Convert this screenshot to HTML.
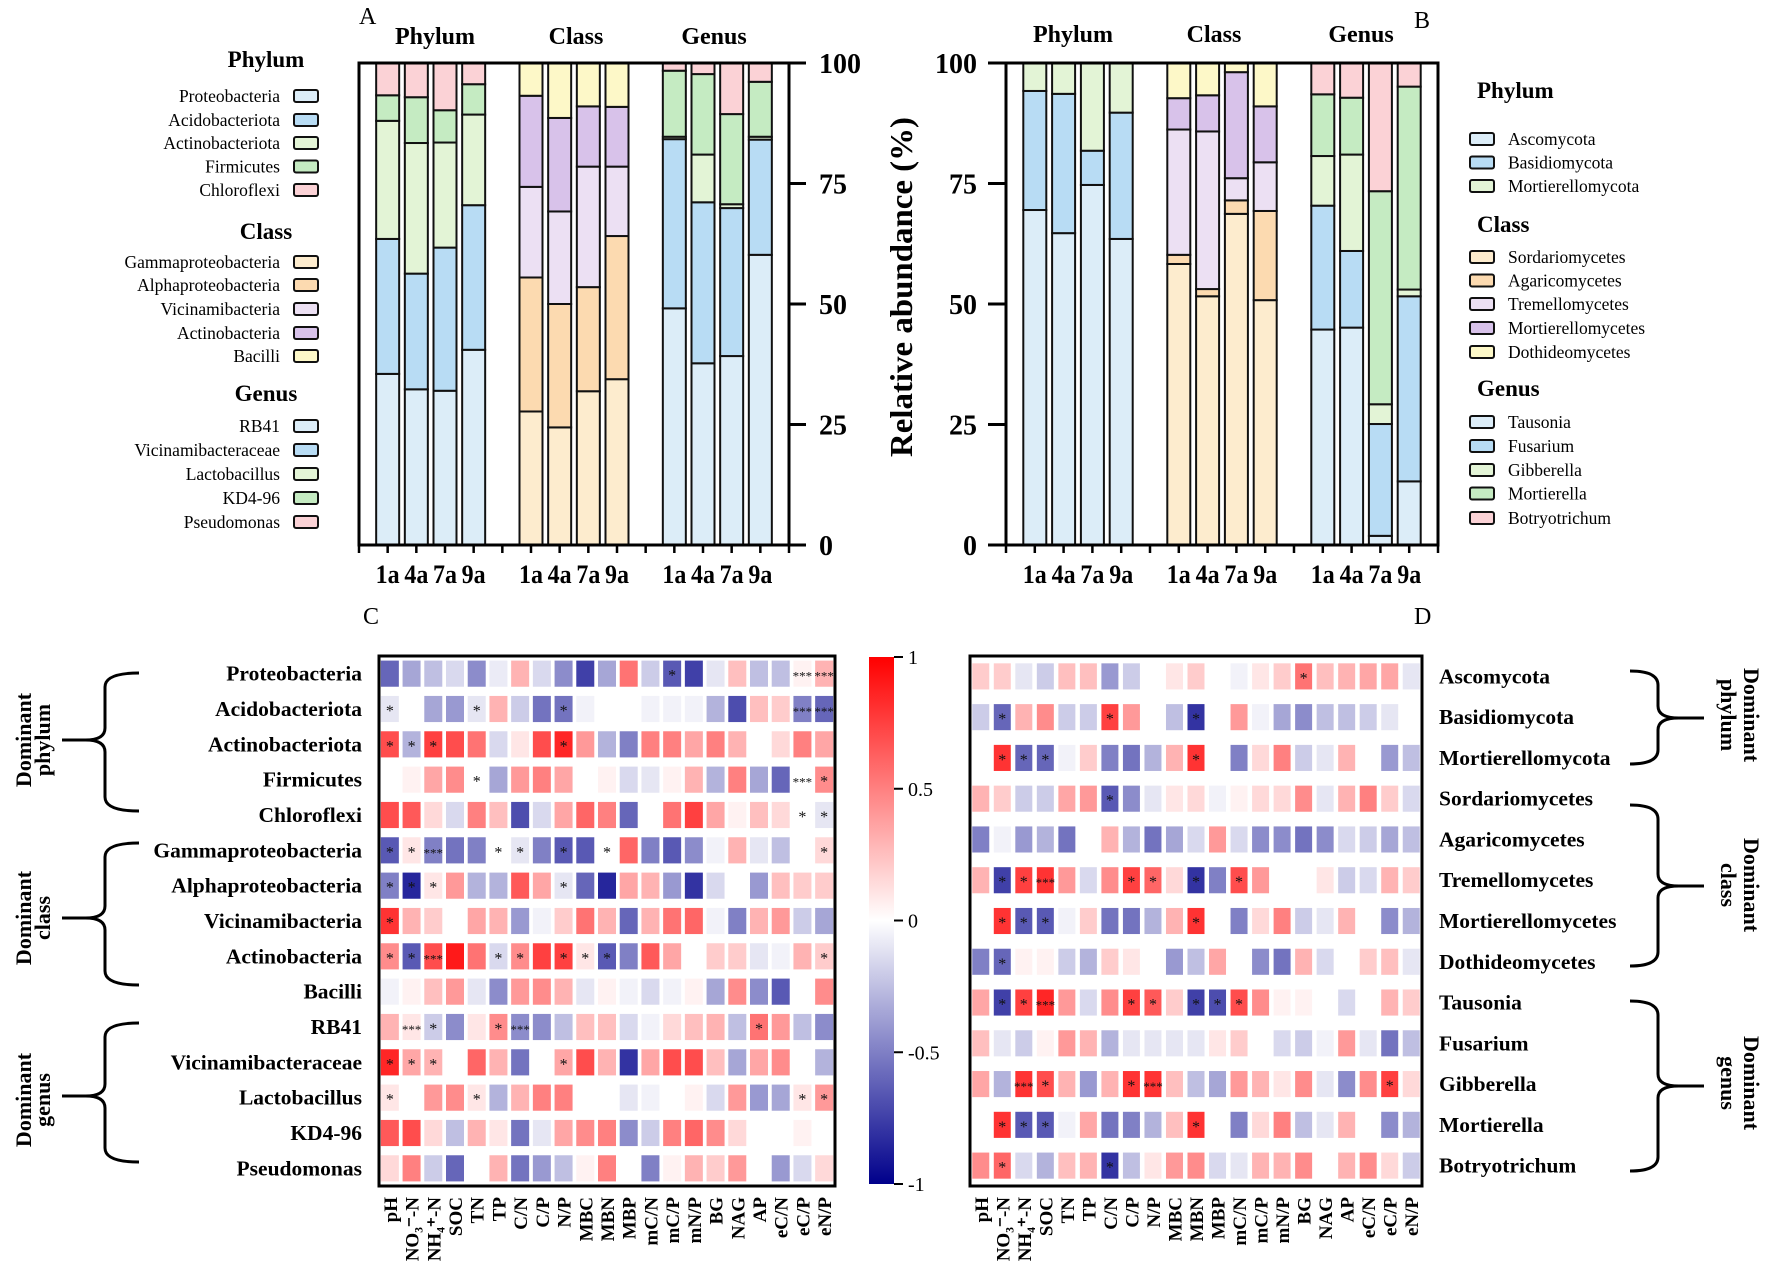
<!DOCTYPE html>
<html><head><meta charset="utf-8"><style>
html,body{margin:0;padding:0;background:#fff;}
svg{display:block;font-family:"Liberation Serif","Times New Roman",serif;}
</style></head><body>
<svg id="fig" xmlns="http://www.w3.org/2000/svg" width="1772" height="1266" viewBox="0 0 1772 1266"></svg>
<script>
// ---------- DATA ----------
const samples = ['1a','4a','7a','9a'];
const groupTitles = ['Phylum','Class','Genus'];
const aPhylumNames = ['Proteobacteria','Acidobacteriota','Actinobacteriota','Firmicutes','Chloroflexi'];
const aClassNames = ['Gammaproteobacteria','Alphaproteobacteria','Vicinamibacteria','Actinobacteria','Bacilli'];
const aGenusNames = ['RB41','Vicinamibacteraceae','Lactobacillus','KD4-96','Pseudomonas'];
const aPhylum = [[35.5,28,24.5,5.3,6.7],[32.3,24,27.1,9.5,7.1],[32,29.7,21.8,6.7,9.8],[40.5,30,18.8,6.3,4.4]];
const aClass = [[27.7,27.8,18.8,18.9,6.8],[24.4,25.6,19.2,19.4,11.4],[31.9,21.6,25,12.5,9],[34.4,29.7,14.4,12.4,9.1]];
const aGenus = [[49.1,35.1,0.5,13.7,1.6],[37.7,33.4,9.9,16.7,2.3],[39.2,30.7,0.8,18.7,10.6],[60.2,23.9,0.6,11.4,3.9]];
const bPhylumNames = ['Ascomycota','Basidiomycota','Mortierellomycota'];
const bClassNames = ['Sordariomycetes','Agaricomycetes','Tremellomycetes','Mortierellomycetes','Dothideomycetes'];
const bGenusNames = ['Tausonia','Fusarium','Gibberella','Mortierella','Botryotrichum'];
const bPhylum = [[69.5,24.7,5.8],[64.7,28.9,6.4],[74.7,7.1,18.2],[63.5,26.2,10.3]];
const bClass = [[58.3,1.9,26,6.5,7.3],[51.6,1.5,32.7,7.5,6.7],[68.7,2.8,4.6,22,1.9],[50.8,18.5,10.1,11.6,9]];
const bGenus = [[44.7,25.7,10.3,12.8,6.5],[45.1,15.9,20,11.8,7.2],[1.9,23.2,4.1,44.2,26.6],[13.2,38.4,1.4,42.1,4.9]];
const yTicks = [0,25,50,75,100];
const envVars = ['pH','NO₃⁻-N','NH₄⁺-N','SOC','TN','TP','C/N','C/P','N/P','MBC','MBN','MBP','mC/N','mC/P','mN/P','BG','NAG','AP','eC/N','eC/P','eN/P'];
const cRows = ['Proteobacteria','Acidobacteriota','Actinobacteriota','Firmicutes','Chloroflexi','Gammaproteobacteria','Alphaproteobacteria','Vicinamibacteria','Actinobacteria','Bacilli','RB41','Vicinamibacteraceae','Lactobacillus','KD4-96','Pseudomonas'];
const cVals = [
[-0.6,-0.35,-0.25,-0.15,-0.45,-0.08,0.3,-0.15,-0.45,-0.75,-0.35,0.55,-0.2,-0.65,-0.75,-0.1,0.25,-0.25,-0.25,0.05,0.3],
[-0.1,0,-0.35,-0.4,-0.1,0.3,-0.2,-0.55,-0.55,-0.05,0,0,-0.05,-0.05,-0.05,-0.3,-0.7,0.25,0.2,-0.5,-0.6],
[0.7,-0.3,0.75,0.7,0.55,-0.15,0.1,0.7,0.85,0.4,-0.3,-0.5,0.5,0.5,0.35,0.5,0.3,0,0.15,0.5,0.35],
[0,0.05,0.35,0.45,0,-0.35,0.4,0.5,0.35,0,0.05,-0.15,-0.1,0.05,0.3,-0.3,0.5,-0.35,-0.6,0,0.45],
[0.7,0.65,0.15,-0.15,0.5,0.25,-0.7,-0.15,0.35,0.6,0.5,-0.6,0,0.55,0.75,0.35,0.05,0.25,0.15,0,-0.1],
[-0.65,0.1,-0.5,-0.55,-0.5,0,-0.1,-0.5,-0.65,-0.65,0,0.6,-0.5,-0.65,-0.45,-0.05,0.3,-0.1,-0.25,0,0.15],
[-0.5,-0.85,0.1,0.4,-0.3,-0.3,0.65,0.35,-0.1,-0.6,-0.85,0.35,0.3,-0.4,-0.8,-0.15,0,-0.4,0.25,0.2,0.2],
[0.8,0.3,0.2,0,0.35,0.3,-0.4,-0.05,0.2,0.55,0.3,-0.6,0.3,0.55,0.6,-0.05,-0.5,0.3,0.4,-0.2,-0.35],
[0.45,-0.65,0.7,0.9,0.55,-0.15,0.45,0.75,0.75,0.1,-0.65,-0.5,0.65,0.35,0,0.2,0.2,-0.1,-0.05,0.3,0.2],
[-0.05,0.05,0.25,0.4,-0.1,-0.45,0.4,0.45,0.3,-0.1,0.05,-0.05,-0.15,-0.05,0.05,-0.35,0.45,-0.45,-0.65,0,0.45],
[0.3,0.1,-0.2,-0.45,0.1,0.45,-0.45,-0.45,-0.25,0.25,0.25,-0.15,-0.05,0.15,0.25,0.3,-0.25,0.55,0.4,-0.25,-0.45],
[0.85,0.35,0.3,0,0.6,0.3,-0.55,0,0.35,0.7,0.3,-0.8,0.35,0.7,0.7,0.25,-0.35,0.35,0.45,0,-0.3],
[0.1,0,0.4,0.45,0.1,-0.3,0.3,0.5,0.5,0,0,-0.1,-0.05,0,0.05,-0.15,0.4,-0.4,-0.35,0.1,0.4],
[0.65,0.7,0.15,-0.25,0.3,0.1,-0.55,-0.1,0.35,0.45,0.5,-0.45,-0.2,0.5,0.6,0.45,0.15,0,0,0.05,0],
[0.15,0.5,-0.2,-0.6,0,0.3,-0.55,-0.4,-0.25,0.05,0.5,0,-0.5,0.05,0.3,0.2,0.4,0,-0.4,-0.15,0.15]];
const cStars = [
[[13,'*'],[19,'***'],[20,'***']],
[[0,'*'],[4,'*'],[8,'*'],[19,'***'],[20,'***']],
[[0,'*'],[1,'*'],[2,'*'],[8,'*']],
[[4,'*'],[19,'***'],[20,'*']],
[[19,'*'],[20,'*']],
[[0,'*'],[1,'*'],[2,'***'],[5,'*'],[6,'*'],[8,'*'],[10,'*'],[20,'*']],
[[0,'*'],[1,'*'],[2,'*'],[8,'*']],
[[0,'*']],
[[0,'*'],[1,'*'],[2,'***'],[5,'*'],[6,'*'],[8,'*'],[9,'*'],[10,'*'],[20,'*']],
[],
[[1,'***'],[2,'*'],[5,'*'],[6,'***'],[17,'*']],
[[0,'*'],[1,'*'],[2,'*'],[8,'*']],
[[0,'*'],[4,'*'],[19,'*'],[20,'*']],
[],[]];
const dRows = ['Ascomycota','Basidiomycota','Mortierellomycota','Sordariomycetes','Agaricomycetes','Tremellomycetes','Mortierellomycetes','Dothideomycetes','Tausonia','Fusarium','Gibberella','Mortierella','Botryotrichum'];
const dVals = [
[0.2,0.2,-0.1,-0.2,0.25,0.25,-0.4,-0.2,0,0.1,0.2,0,-0.05,0.1,0.2,0.55,0.25,0.3,0.35,0.35,-0.1],
[-0.2,-0.6,0.3,0.45,-0.2,-0.2,0.75,0.4,0,-0.25,-0.8,0,0.4,-0.05,-0.35,-0.45,-0.25,-0.25,-0.2,-0.1,0],
[0,0.8,-0.6,-0.6,-0.05,0.2,-0.5,-0.55,-0.3,0.3,0.8,0,-0.5,0.15,0.5,-0.2,-0.1,0.3,0,-0.4,-0.25],
[0.3,0.2,-0.2,-0.2,0.35,0.4,-0.65,-0.45,-0.1,0.1,0.15,-0.05,0.05,0.15,0.15,0.45,-0.1,0.3,0.5,0.2,-0.15],
[-0.5,-0.05,-0.4,-0.3,-0.55,0,0.3,-0.3,-0.55,-0.35,-0.15,0.4,-0.15,-0.45,-0.45,-0.55,-0.45,-0.15,-0.2,-0.35,-0.25],
[0.3,-0.75,0.75,0.8,0.4,-0.15,0.45,0.75,0.6,0.15,-0.8,-0.5,0.7,0.4,0,0,0.1,-0.2,-0.15,0.3,0.2],
[0,0.8,-0.65,-0.65,-0.05,0.2,-0.55,-0.55,-0.3,0.3,0.8,0,-0.5,0.15,0.5,-0.2,-0.1,0.3,0,-0.45,-0.3],
[-0.5,-0.6,0.05,0.05,-0.2,-0.3,0.2,0.1,0,-0.4,-0.25,0.35,0,-0.45,-0.55,0.3,-0.15,0,0.2,0.25,-0.1],
[0.35,-0.75,0.75,0.85,0.4,-0.15,0.45,0.75,0.65,0.2,-0.75,-0.7,0.7,0.45,0.05,0.05,0,-0.15,0,0.3,0.2],
[0.25,-0.1,-0.2,0.05,0.4,0.3,-0.3,-0.1,-0.1,-0.1,-0.1,0.1,0.2,0,-0.15,-0.2,-0.05,0.4,-0.1,-0.55,-0.25],
[0.35,-0.3,0.8,0.7,0.3,-0.4,0.3,0.8,0.8,0.25,-0.25,-0.35,0.4,0.3,0.1,0.45,-0.1,-0.45,0.45,0.75,0.15],
[0,0.8,-0.65,-0.65,-0.05,0.35,-0.55,-0.5,-0.3,0.25,0.8,0,-0.5,0.15,0.5,-0.25,-0.1,0.3,0,-0.45,-0.3],
[0.45,0.6,-0.15,-0.3,0.25,0.3,-0.8,-0.25,0.1,0.4,0.45,-0.15,-0.1,0.3,0.3,0.45,0,0.3,0.45,0.15,-0.2]];
const dStars = [
[[15,'*']],
[[1,'*'],[6,'*'],[10,'*']],
[[1,'*'],[2,'*'],[3,'*'],[10,'*']],
[[6,'*']],
[],
[[1,'*'],[2,'*'],[3,'***'],[7,'*'],[8,'*'],[10,'*'],[12,'*']],
[[1,'*'],[2,'*'],[3,'*'],[10,'*']],
[[1,'*']],
[[1,'*'],[2,'*'],[3,'***'],[7,'*'],[8,'*'],[10,'*'],[11,'*'],[12,'*']],
[],
[[2,'***'],[3,'*'],[7,'*'],[8,'***'],[19,'*']],
[[1,'*'],[2,'*'],[3,'*'],[10,'*']],
[[1,'*'],[6,'*']]];
const cbTicks = [1,0.5,0,-0.5,-1];
const cbLabels = ['1','0.5','0','-0.5','-1'];

// ---------- HELPERS ----------
const NS='http://www.w3.org/2000/svg';
const svg=document.getElementById('fig');
function mk(tag,attrs,parent){const e=document.createElementNS(NS,tag);for(const k in attrs)e.setAttribute(k,attrs[k]);(parent||svg).appendChild(e);return e;}
function txt(s,attrs,parent){const e=mk('text',attrs,parent);e.textContent=s;return e;}
const colA1=['#dcedf8','#b8dcf4','#e3f4d6','#c5ebc2','#fbd2d6'];
const colA2=['#fdecce','#fcdab0','#ece0f3','#d8c2ea','#fdf8c8'];
const colB1=['#dcedf8','#b8dcf4','#e3f4d6'];

// ---------- STACKED BAR PANELS ----------
function yScale(v){return 545 - v*4.82;}
function drawPanel(id,left,right,axisSide,data,colors){
  const g=mk('g',{});
  
  
  const slot=(right-left)/15;
  data.forEach((grp,gi)=>{
    grp.forEach((vals,si)=>{
      const cx=left+slot*(gi*5+si+1);
      let cum=0;
      vals.forEach((v,k)=>{
        const r=mk('rect',{x:cx-11.5,y:yScale(cum+v),width:23,height:yScale(cum)-yScale(cum+v),fill:colors[gi][k],stroke:'#111','stroke-width':2},g);
        
        
        cum+=v;
      });
      const lab=txt(samples[si],{x:cx,y:583,'text-anchor':'middle','font-size':26,'font-weight':'bold',textLength:24,lengthAdjust:'spacingAndGlyphs'},g);
      
      
    });
  });
  const fr=mk('rect',{x:left,y:63,width:right-left,height:482,fill:'none',stroke:'#000','stroke-width':3},g);
  
  
  for(let k=0;k<=15;k++){mk('line',{x1:left+slot*k,x2:left+slot*k,y1:545,y2:553,stroke:'#000','stroke-width':2.5},g);}
  const ax=axisSide==='right'?right:left;
  yTicks.forEach(t=>{
    const y=yScale(t);
    if(axisSide==='right'){
      mk('line',{x1:ax,x2:ax+17,y1:y,y2:y,stroke:'#000','stroke-width':3},g);
      const tl=txt(String(t),{x:ax+30,y:y+10,'font-size':28,'font-weight':'bold'},g);
      
      
    } else {
      mk('line',{x1:ax-18,x2:ax,y1:y,y2:y,stroke:'#000','stroke-width':3},g);
      const tl=txt(String(t),{x:ax-29,y:y+10,'font-size':28,'font-weight':'bold','text-anchor':'end'},g);
      
      
    }
  });
}
drawPanel('panel-a',359,789,'right',[aPhylum,aClass,aGenus],[colA1,colA2,colA1]);
drawPanel('panel-b',1006,1438,'left',[bPhylum,bClass,bGenus],[colB1,colA2,colA1]);

[[435,576,714,44],[1073,1214,1361,42]].forEach((p,pi)=>{
  groupTitles.forEach((t,i)=>{
    const e=txt(t,{x:p[i],y:p[3],'text-anchor':'middle','font-size':24,'font-weight':'bold'});
    
    
  });
});
const ylab=txt('Relative abundance (%)',{x:0,y:0,'font-size':32,'font-weight':'bold','text-anchor':'middle',transform:'translate(912,287) rotate(-90)',textLength:340,lengthAdjust:'spacingAndGlyphs'});



[['A',359,24],['B',1414,28],['C',363,624],['D',1414,624]].forEach(l=>{
  const e=txt(l[0],{x:l[1],y:l[2],'font-size':24});
  
  
});

function legend(side,headX,textX,boxX,blocks){
  blocks.forEach(b=>{
    const h=txt(b.title,{x:headX,y:b.hy+8,'font-size':23,'font-weight':'bold','text-anchor':side==='left'?'middle':'start'});
    
    
    b.names.forEach((n,i)=>{
      const y=b.ys[i];
      const t=txt(n,{x:textX,y:y+6,'font-size':17.5,'text-anchor':side==='left'?'end':'start'});
      
      
      const r=mk('rect',{x:boxX,y:y-6,width:24,height:12,rx:2,fill:b.colors[i],stroke:'#111','stroke-width':2});
      
      
    });
  });
}
legend('left',266,280,294,[
  {title:'Phylum',hy:59,names:aPhylumNames,colors:colA1,ys:[96,120,143,166.5,190]},
  {title:'Class',hy:231,names:aClassNames,colors:colA2,ys:[262,285,309,333,356]},
  {title:'Genus',hy:393,names:aGenusNames,colors:colA1,ys:[426,450,474,498,522]}]);
legend('right',1477,1508,1470,[
  {title:'Phylum',hy:90,names:bPhylumNames,colors:colB1,ys:[139,162.5,186]},
  {title:'Class',hy:224,names:bClassNames,colors:colA2,ys:[257,280.5,304,328,352]},
  {title:'Genus',hy:388,names:bGenusNames,colors:colA1,ys:[422,446,470,493.5,518]}]);

// ---------- HEATMAPS ----------
function hmColor(v){
  v=Math.max(-1,Math.min(1,v));
  if(v>=0){const c=Math.round(255*(1-v));return 'rgb(255,'+c+','+c+')';}
  const a=-v;const c=Math.round(255*(1-a));return 'rgb('+c+','+c+','+Math.round(255-116*a)+')';
}
function heatmap(id,left,right,top,bottom,rows,vals,stars,cw,chf,labelSide){
  const g=mk('g',{});
  
  
  const colW=(right-left)/envVars.length, rowH=(bottom-top)/rows.length, ch=rowH*chf;
  rows.forEach((rn,ri)=>{
    const cy=top+rowH*(ri+0.5);
    vals[ri].forEach((v,ci)=>{
      const cx=left+colW*(ci+0.5);
      const r=mk('rect',{x:cx-cw/2,y:cy-ch/2,width:cw,height:ch,fill:hmColor(v)},g);
      
      
    });
    stars[ri].forEach(s=>{
      const cx=left+colW*(s[0]+0.5);
      txt(s[1],{x:cx,y:cy+7,'text-anchor':'middle','font-size':s[1].length>1?13:16,fill:'#111'},g);
    });
    const lab=labelSide==='left'
      ? txt(rn,{x:left-17,y:cy+7,'text-anchor':'end','font-size':21.5,'font-weight':'bold'},g)
      : txt(rn,{x:right+17,y:cy+7,'text-anchor':'start','font-size':21.5,'font-weight':'bold'},g);
    
    
  });
  envVars.forEach((c,ci)=>{
    const cx=left+colW*(ci+0.5)+7;
    const t=txt(c,{x:cx,y:bottom+11,'text-anchor':'end','font-size':19,'font-weight':'bold',transform:'rotate(-90 '+cx+' '+(bottom+11)+')'},g);
    
    
  });
  const fr=mk('rect',{x:left,y:top,width:right-left,height:bottom-top,fill:'none',stroke:'#000','stroke-width':3},g);
  
  
}
heatmap('heatmap-c',379,835,656,1186,cRows,cVals,cStars,18,0.74,'left');
heatmap('heatmap-d',970,1422,656,1186,dRows,dVals,dStars,17,0.64,'right');

const defs=mk('defs',{});
const lg=mk('linearGradient',{id:'cbg',x1:0,y1:0,x2:0,y2:1},defs);
[[0,'#ff0000'],[0.25,'#ff8080'],[0.5,'#ffffff'],[0.75,'#7f7fc5'],[1,'#00008b']].forEach(s=>mk('stop',{offset:s[0],'stop-color':s[1]},lg));
const cb=mk('rect',{x:869,y:657,width:25,height:527,fill:'url(#cbg)'});


cbTicks.forEach((t,i)=>{
  const y=657+(1-t)/2*527;
  mk('line',{x1:894,x2:903,y1:y,y2:y,stroke:'#000','stroke-width':2});
  const l=txt(cbLabels[i],{x:908,y:y+7,'font-size':20});
  
  
});

function brace(xv,xend,xtip,top,bot,mid){
  const d='M'+xend+','+top+' Q'+xv+','+top+' '+xv+','+(top+14)+' L'+xv+','+(mid-12)+' Q'+xv+','+mid+' '+(xv+(xtip-xv)*0.45)+','+mid+' L'+xtip+','+mid+
    ' M'+(xv+(xtip-xv)*0.45)+','+mid+' Q'+xv+','+mid+' '+xv+','+(mid+12)+' L'+xv+','+(bot-14)+' Q'+xv+','+bot+' '+xend+','+bot;
  const p=mk('path',{d:d,fill:'none',stroke:'#000','stroke-width':3});
  
  
}
brace(105,139,62,673,811,740);
brace(105,139,62,843,985,918);
brace(105,139,62,1023,1162,1096);
brace(1658,1630,1704,671,764,718);
brace(1658,1630,1704,805,966,886);
brace(1658,1630,1704,1001,1171,1086);
function vlabel(l1,l2,x1,x2,cy,rot){
  [[l1,x1],[l2,x2]].forEach(p=>{
    const e=txt(p[0],{x:0,y:0,'text-anchor':'middle','font-size':22,'font-weight':'bold',transform:'translate('+p[1]+','+cy+') rotate('+rot+')'});
    
    
  });
}
vlabel('Dominant','phylum',31,50,740,-90);
vlabel('Dominant','class',31,50,918,-90);
vlabel('Dominant','genus',31,50,1100,-90);
vlabel('Dominant','phylum',1744,1721,715,90);
vlabel('Dominant','class',1744,1721,885,90);
vlabel('Dominant','genus',1744,1721,1083,90);
</script>
</body></html>
